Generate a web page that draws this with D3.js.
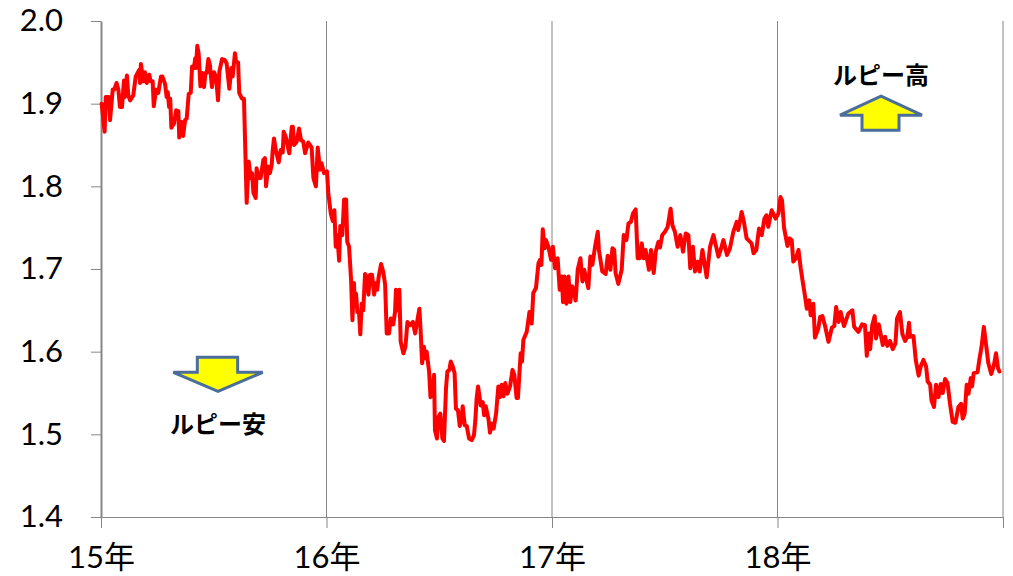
<!DOCTYPE html>
<html>
<head>
<meta charset="utf-8">
<script src="https://cdn.jsdelivr.net/npm/d3@7"></script>
<style>
    html, body { margin: 0; padding: 0; background: #fff; overflow: hidden; }
    svg { display: block; }
    text { fill: #000; }
    .tick text { font-family: Lato, "Noto Sans CJK JP", sans-serif; font-size: 31px; }
    .note { font-family: "Noto Sans CJK JP", sans-serif; font-size: 24px; font-weight: 700; text-anchor: middle; }
</style>
</head>
<body>
<svg id="chart" width="1013" height="576"></svg>
<script>
// years since the start of 2015
const rateDates = [
    0.003,0.016,0.021,0.034,0.040,0.052,0.059,0.069,0.077,0.084,0.093,0.102,0.106,0.115,0.121,0.129,0.143,0.154,0.170,0.173,
    0.177,0.188,0.195,0.203,0.214,0.220,0.229,0.234,0.244,0.254,0.266,0.272,0.284,0.291,0.296,0.302,0.307,0.312,0.324,0.333,
    0.343,0.347,0.358,0.364,0.373,0.380,0.389,0.398,0.404,0.412,0.418,0.421,0.427,0.433,0.441,0.449,0.457,0.463,0.469,0.476,
    0.483,0.492,0.501,0.510,0.519,0.525,0.537,0.548,0.557,0.569,0.578,0.584,0.594,0.599,0.608,0.613,0.625,0.634,0.646,0.655,
    0.664,0.670,0.676,0.686,0.690,0.699,0.708,0.720,0.727,0.732,0.741,0.749,0.757,0.761,0.767,0.775,0.788,0.797,0.806,0.810,
    0.819,0.835,0.846,0.851,0.856,0.868,0.878,0.887,0.897,0.905,0.919,0.934,0.942,0.953,0.961,0.971,0.978,0.989,1.002,1.008,
    1.019,1.028,1.035,1.041,1.048,1.056,1.061,1.070,1.078,1.087,1.092,1.100,1.109,1.115,1.122,1.125,1.131,1.137,1.144,1.150,
    1.156,1.163,1.171,1.178,1.186,1.193,1.202,1.211,1.220,1.225,1.231,1.242,1.252,1.260,1.267,1.277,1.285,1.296,1.304,1.308,
    1.316,1.323,1.329,1.341,1.350,1.359,1.371,1.383,1.393,1.403,1.412,1.418,1.424,1.432,1.438,1.444,1.455,1.461,1.469,1.477,
    1.481,1.490,1.496,1.505,1.514,1.521,1.530,1.536,1.545,1.551,1.560,1.568,1.574,1.583,1.591,1.598,1.604,1.613,1.622,1.632,
    1.644,1.654,1.660,1.666,1.672,1.684,1.693,1.699,1.706,1.718,1.725,1.733,1.741,1.752,1.762,1.769,1.777,1.785,1.793,1.802,
    1.814,1.825,1.833,1.843,1.849,1.861,1.867,1.873,1.888,1.900,1.910,1.917,1.929,1.940,1.947,1.953,1.959,1.968,1.973,1.984,
    1.996,2.004,2.013,2.025,2.034,2.043,2.049,2.055,2.064,2.073,2.081,2.090,2.105,2.114,2.126,2.135,2.143,2.161,2.170,2.179,
    2.191,2.203,2.208,2.223,2.238,2.247,2.259,2.268,2.276,2.282,2.294,2.309,2.318,2.330,2.339,2.350,2.359,2.371,2.380,2.389,
    2.398,2.407,2.415,2.430,2.439,2.451,2.460,2.472,2.479,2.489,2.501,2.513,2.526,2.534,2.545,2.557,2.569,2.581,2.593,2.605,
    2.613,2.625,2.634,2.646,2.655,2.667,2.686,2.701,2.716,2.738,2.749,2.760,2.776,2.789,2.804,2.819,2.826,2.841,2.851,2.863,
    2.885,2.894,2.906,2.918,2.930,2.942,2.951,2.959,2.974,2.992,3.004,3.013,3.020,3.029,3.044,3.053,3.063,3.070,3.082,3.093,
    3.103,3.110,3.122,3.130,3.141,3.147,3.159,3.166,3.181,3.189,3.199,3.211,3.226,3.241,3.252,3.260,3.271,3.280,3.295,3.314,
    3.332,3.340,3.359,3.375,3.388,3.396,3.405,3.411,3.420,3.431,3.437,3.449,3.467,3.477,3.487,3.499,3.511,3.523,3.530,3.543,
    3.554,3.566,3.576,3.583,3.588,3.603,3.613,3.626,3.635,3.647,3.659,3.666,3.677,3.683,3.694,3.703,3.714,3.724,3.733,3.743,
    3.754,3.765,3.777,3.789,3.802,3.814,3.821,3.830,3.839,3.847,3.857,3.863,3.870,3.887,3.896,3.905,3.915,3.926,3.935,3.948,
    3.960,3.969,3.978,3.984
];
const rateValues = [
    1.900,1.866,1.908,1.908,1.880,1.917,1.917,1.925,1.917,1.896,1.896,1.928,1.908,1.934,1.910,1.904,1.910,1.933,1.941,1.925,
    1.948,1.927,1.938,1.925,1.935,1.927,1.927,1.897,1.917,1.913,1.933,1.933,1.924,1.908,1.914,1.896,1.906,1.871,1.876,1.892,
    1.891,1.859,1.878,1.861,1.880,1.882,1.912,1.913,1.945,1.943,1.955,1.943,1.970,1.961,1.921,1.937,1.920,1.937,1.937,1.954,
    1.947,1.920,1.938,1.933,1.904,1.939,1.954,1.953,1.949,1.918,1.943,1.933,1.961,1.951,1.950,1.913,1.906,1.906,1.780,1.830,
    1.810,1.816,1.792,1.786,1.822,1.810,1.810,1.832,1.834,1.800,1.824,1.816,1.826,1.842,1.858,1.844,1.829,1.844,1.841,1.866,
    1.860,1.840,1.872,1.872,1.850,1.854,1.870,1.856,1.854,1.840,1.853,1.847,1.810,1.800,1.847,1.820,1.828,1.816,1.818,1.792,
    1.767,1.758,1.771,1.727,1.741,1.710,1.752,1.741,1.784,1.784,1.733,1.727,1.687,1.638,1.683,1.659,1.670,1.648,1.648,1.621,
    1.658,1.650,1.694,1.691,1.669,1.693,1.693,1.669,1.683,1.675,1.690,1.706,1.696,1.681,1.622,1.622,1.640,1.633,1.648,1.675,
    1.650,1.675,1.612,1.598,1.606,1.636,1.632,1.636,1.622,1.638,1.652,1.622,1.586,1.606,1.592,1.600,1.576,1.545,1.548,1.572,
    1.505,1.495,1.521,1.525,1.495,1.492,1.556,1.576,1.578,1.588,1.582,1.574,1.531,1.529,1.510,1.517,1.534,1.511,1.510,1.495,
    1.493,1.499,1.517,1.544,1.558,1.535,1.539,1.523,1.534,1.519,1.502,1.513,1.507,1.525,1.558,1.545,1.560,1.546,1.562,1.549,
    1.558,1.578,1.572,1.544,1.544,1.598,1.588,1.614,1.624,1.648,1.634,1.671,1.677,1.707,1.711,1.705,1.748,1.725,1.735,1.727,
    1.711,1.727,1.701,1.713,1.675,1.691,1.660,1.691,1.658,1.691,1.660,1.679,1.662,1.699,1.713,1.685,1.699,1.677,1.715,1.705,
    1.727,1.745,1.723,1.697,1.694,1.716,1.699,1.725,1.723,1.695,1.682,1.699,1.741,1.735,1.755,1.757,1.767,1.772,1.713,1.713,
    1.731,1.713,1.723,1.699,1.723,1.695,1.721,1.733,1.726,1.741,1.745,1.751,1.773,1.753,1.745,1.727,1.741,1.721,1.743,1.741,
    1.701,1.727,1.697,1.709,1.697,1.723,1.690,1.727,1.741,1.715,1.724,1.735,1.717,1.725,1.745,1.757,1.747,1.769,1.757,1.737,
    1.731,1.719,1.723,1.749,1.741,1.761,1.765,1.751,1.771,1.761,1.767,1.787,1.783,1.750,1.728,1.737,1.735,1.709,1.713,1.723,
    1.701,1.688,1.667,1.652,1.662,1.644,1.658,1.617,1.628,1.642,1.643,1.631,1.612,1.629,1.631,1.654,1.636,1.648,1.631,1.646,
    1.650,1.630,1.624,1.633,1.632,1.595,1.622,1.603,1.632,1.643,1.616,1.633,1.608,1.618,1.607,1.613,1.603,1.610,1.640,1.648,
    1.621,1.613,1.618,1.635,1.618,1.619,1.590,1.571,1.582,1.590,1.582,1.564,1.560,1.541,1.533,1.560,1.545,1.561,1.550,1.567,
    1.562,1.537,1.515,1.514,1.533,1.537,1.519,1.525,1.560,1.549,1.568,1.558,1.574,1.575,1.592,1.606,1.630,1.606,1.586,1.573,
    1.584,1.598,1.580,1.576
];
const yTicks = [1.4, 1.5, 1.6, 1.7, 1.8, 1.9, 2.0];
const xTicks = [0, 1, 2, 3, 4];
const xTickLabels = ["15年", "16年", "17年", "18年", ""];
const gridYears = [1, 2, 3, 4];

const svg = d3.select("#chart");
const x = d3.scaleLinear().domain([0, 4]).range([101, 1003]);
const y = d3.scaleLinear().domain([1.4, 2.0]).range([517, 21]);

// vertical gridlines
svg.selectAll(".grid")
    .data(gridYears)
    .enter()
    .append("line")
    .attr("class", "grid")
    .attr("x1", d => x(d))
    .attr("x2", d => x(d))
    .attr("y1", y(2.0))
    .attr("y2", y(1.4))
    .attr("stroke", "#868686")
    .attr("stroke-width", 1);

const xAxis = d3.axisBottom(x)
    .tickValues(xTicks)
    .tickFormat((d, i) => xTickLabels[i])
    .tickSize(11)
    .tickPadding(18)
    .tickSizeOuter(0);
const yAxis = d3.axisLeft(y)
    .tickValues(yTicks)
    .tickFormat(d3.format(".1f"))
    .tickSize(10)
    .tickPadding(28)
    .tickSizeOuter(0);

const gx = svg.append("g").attr("transform", `translate(0,${y(1.4)})`).call(xAxis);
const gy = svg.append("g").attr("transform", `translate(${x(0)},0)`).call(yAxis);
gx.selectAll("line, path").attr("stroke", "#868686");
gy.selectAll("line, path").attr("stroke", "#868686");
gy.select(".domain").attr("stroke-width", 2);

// the rate line
const line = d3.line().x(d => x(d[0])).y(d => y(d[1]));
svg.append("path")
    .datum(d3.zip(rateDates, rateValues))
    .attr("d", line)
    .attr("fill", "none")
    .attr("stroke", "#ff0000")
    .attr("stroke-width", 4)
    .attr("stroke-linejoin", "round")
    .attr("stroke-linecap", "round");

// arrows
const arrowShape = [[0, 0], [41, 19], [18, 19], [18, 34], [-19, 34], [-19, 19], [-41, 19]];
const arrowUp = { year: 3.459, value: 1.909, dir: 1 };
const arrowDown = { year: 0.519, value: 1.552, dir: -1 };

[arrowUp, arrowDown].forEach(a => {
    svg.append("polygon")
        .attr("points", arrowShape.map(p => [x(a.year) + p[0] * (a.dir < 0 ? 1.09 : 1), y(a.value) + p[1] * a.dir].join(",")).join(" "))
        .attr("fill", "#ffff00")
        .attr("stroke", "#4a6d9c")
        .attr("stroke-width", 3)
        .attr("stroke-linejoin", "miter");
});

svg.append("text").attr("class", "note").attr("x", x(3.459)).attr("y", y(1.924)).text("ルピー高");
svg.append("text").attr("class", "note").attr("x", x(0.519)).attr("y", y(1.502)).text("ルピー安");
</script>
</body>
</html>
